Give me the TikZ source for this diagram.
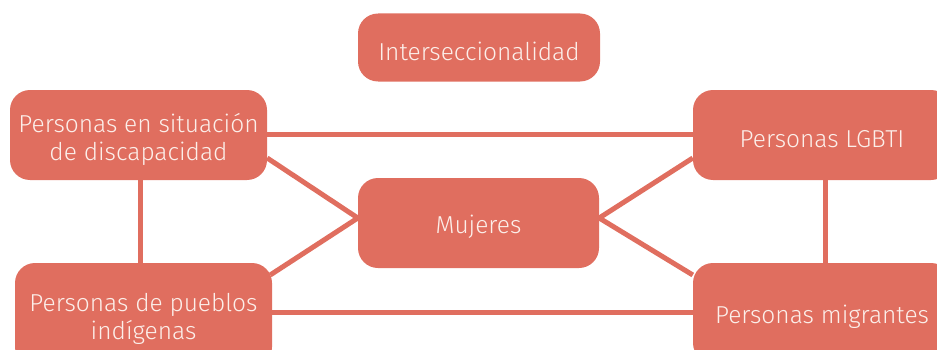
\documentclass[tikz,border=0pt]{standalone}
\usepackage{fontspec}
\setmainfont{Fira Sans}[UprightFont=* Light]
\usetikzlibrary{calc,backgrounds}
\definecolor{coral}{HTML}{E06E5F}
\definecolor{txt}{HTML}{FCEFEA}
\newcommand\lowtxt[1]{\raisebox{-4pt}[\height][\depth]{#1}}
\tikzset{
  box/.style={draw=none, fill=coral, rounded corners=20pt, text=txt, align=center,
    font=\fontsize{24.5}{28}\selectfont, inner sep=0pt},
  link/.style={draw=coral, line width=5pt}
}
\begin{document}
\begin{tikzpicture}[x=1pt,y=1pt]
\useasboundingbox (0,0) rectangle (937,349);
\clip (0,0) rectangle (937,349);
% y_tikz = 349 - y_img
\node[box, minimum width=242pt, minimum height=68pt] (int) at (479,301.5) {\lowtxt{Interseccionalidad}};
\node[box, minimum width=257pt, minimum height=90pt] (dis) at (138.5,214) {\lowtxt{Personas en situación}\\\lowtxt{de discapacidad}};
\node[box, minimum width=258pt, minimum height=90pt] (lgb) at (822,214) {\lowtxt{Personas LGBTI}};
\node[box, minimum width=241pt, minimum height=90pt] (muj) at (478.5,126) {\lowtxt{Mujeres}};
\node[box, minimum width=257pt, minimum height=104pt] (ind) at (143.5,34) {\lowtxt{Personas de pueblos}\\\lowtxt{indígenas}};
\node[box, minimum width=258pt, minimum height=100pt] (mig) at (822,36) {\lowtxt{Personas migrantes}};
\begin{scope}[on background layer]
\draw[link] ($(dis.east)+(-10,1)$) -- ($(lgb.west)+(10,1)$);
\draw[link] ($(ind.east)+(-10,3)$) -- ($(mig.west)+(10,1)$);
\draw[link] ($(dis.south)+(1.5,10)$) coordinate (a) -- ($(a |- ind.north)+(0,-10)$);
\draw[link] ($(lgb.south)+(3,10)$) coordinate (b) -- ($(b |- mig.north)+(0,-10)$);
\draw[link] ($(dis.east)+(0,-23)$) -- ($(muj.west)+(0,5)$);
\draw[link] ($(ind.east)+(-2,40)$) -- ($(muj.west)+(0,5)$);
\draw[link] ($(lgb.west)+(0,-23)$) -- ($(muj.east)+(0,5)$);
\draw[link] ($(mig.west)+(0,38)$) -- ($(muj.east)+(0,5)$);
\end{scope}
\end{tikzpicture}
\end{document}
